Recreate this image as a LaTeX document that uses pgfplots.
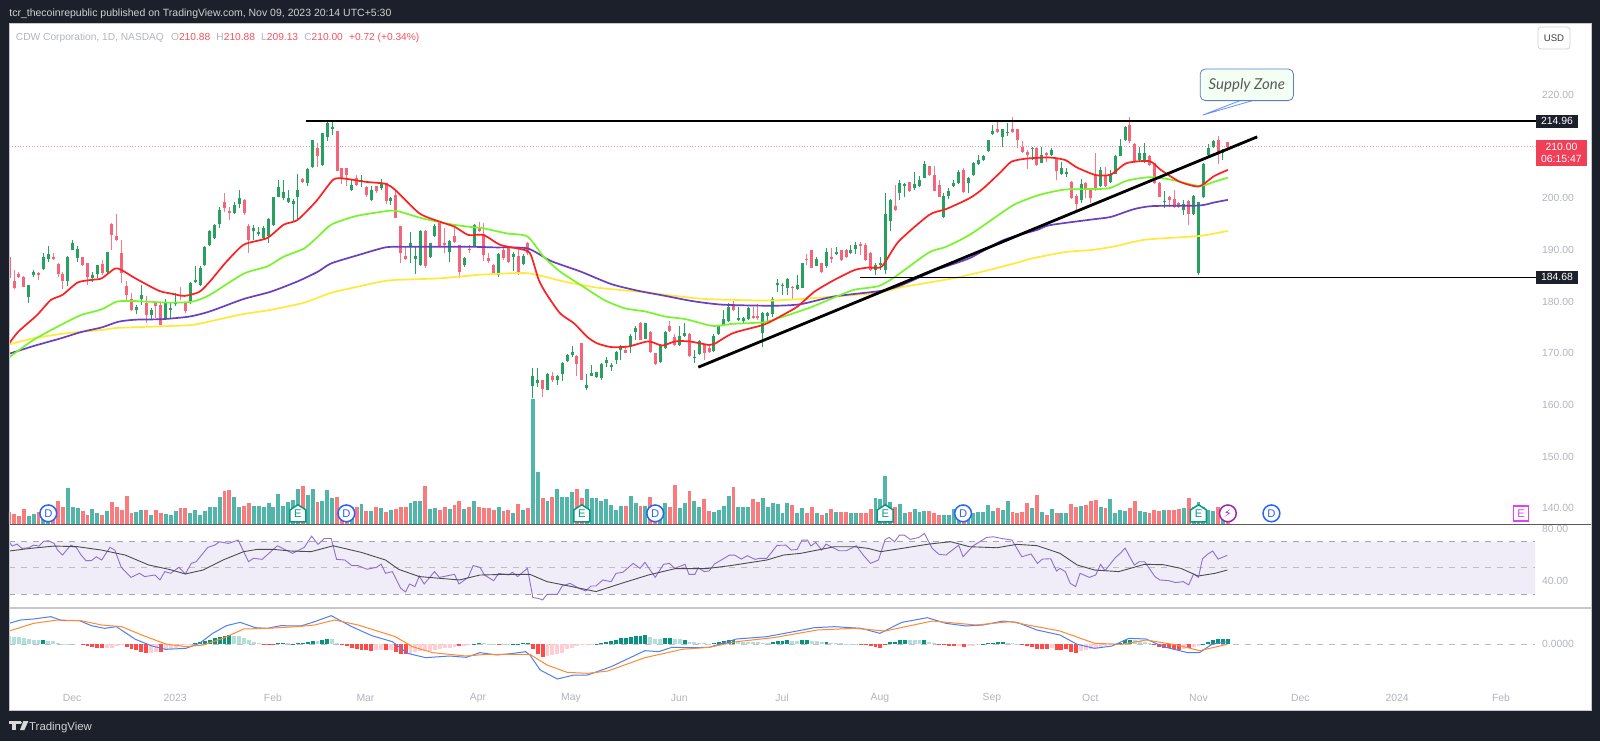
\documentclass[border=0pt]{standalone}
\usepackage{fontspec}
\setmainfont{Liberation Sans}
\newfontfamily\symfont{DejaVu Sans}
\newfontfamily\notefont{Lato}
\usepackage{pgfplots}
\usepackage{pgfplotstable}
\pgfplotsset{compat=1.18}
\usetikzlibrary{shapes.geometric}

\definecolor{frame}{HTML}{1C202B}
\definecolor{tvgray}{HTML}{B2B5BE}
\definecolor{cup}{HTML}{27A060}
\definecolor{cdn}{HTML}{F23F58}
\definecolor{vup}{HTML}{52B5A9}
\definecolor{vdn}{HTML}{F87C7E}
\definecolor{hdark}{HTML}{0A9281}
\definecolor{hpale}{HTML}{B2DFDB}
\definecolor{hred}{HTML}{FF4A4A}
\definecolor{hpink}{HTML}{FFCDD2}
\definecolor{ema1}{HTML}{FF1F1F}
\definecolor{ema2}{HTML}{76F52A}
\definecolor{ema3}{HTML}{6A3FC0}
\definecolor{ema4}{HTML}{FFE93B}
\definecolor{rsiline}{HTML}{8F6FD0}
\definecolor{rsiband}{HTML}{F0EDF8}
\definecolor{macdb}{HTML}{4F7FF5}
\definecolor{macdo}{HTML}{FF8A30}
\definecolor{evblue}{HTML}{2962FF}
\definecolor{evteal}{HTML}{089981}
\definecolor{evpurple}{HTML}{9C27B0}
\definecolor{evmag}{HTML}{E040FB}
\definecolor{legred}{HTML}{F7525F}

% daily bars: index, open, high, low, close, volume (arbitrary units)
\pgfplotstableread{
i o h l c v
0 188.7 188.7 184.5 184.5 37
1 183.9 186.1 182.4 182.6 30
2 185.4 185.8 184.5 184.8 24
3 184.8 184.9 182.8 182.9 44
4 180.8 183.3 179.8 183.2 24
5 185.2 186.1 184.8 185.8 29
6 185.5 185.8 184.2 185.2 37
7 186.3 189.4 186.1 188.7 40
8 188.2 190.8 187.7 189.2 30
9 188.7 189.4 188.1 188.2 30
10 187.3 187.4 184.8 185.4 70
11 185.4 185.8 182.4 183.9 52
12 183.9 188.8 183.0 188.7 107
13 190.0 191.9 190.0 191.3 50
14 188.4 190.8 187.7 190.1 49
15 188.6 188.7 186.8 187.0 39
16 187.4 187.4 183.2 184.7 27
17 184.5 185.8 183.7 185.2 44
18 185.4 187.1 184.5 187.1 32
19 187.2 188.1 185.2 185.5 27
20 185.8 189.7 185.2 189.7 39
21 195.0 195.2 190.0 192.9 65
22 192.7 197.0 191.8 191.9 50
23 189.4 191.9 183.6 185.5 42
24 183.0 183.9 180.0 181.3 84
25 180.6 181.6 178.1 178.3 34
26 178.4 179.4 177.6 179.0 37
27 180.6 183.2 179.4 181.2 42
28 179.7 181.0 175.8 177.4 42
29 177.4 178.7 176.6 178.4 27
30 179.7 180.0 176.8 179.2 42
31 179.4 180.0 175.5 175.5 32
32 176.6 180.6 176.6 180.0 29
33 178.4 180.0 176.8 178.7 27
34 179.6 181.6 179.2 180.0 39
35 181.3 182.9 180.3 181.0 47
36 179.8 180.0 177.7 178.1 47
37 180.0 183.7 179.6 183.6 34
38 183.7 186.8 183.6 184.1 42
39 183.2 186.8 183.0 186.5 27
40 187.1 190.8 186.9 190.5 39
41 191.0 193.9 190.8 193.6 50
42 192.3 195.0 192.1 194.9 52
43 195.0 198.3 194.2 197.7 82
44 199.2 201.1 197.4 198.2 99
45 197.5 198.4 195.8 197.2 102
46 197.1 199.2 197.0 198.7 82
47 198.9 201.7 198.1 200.0 50
48 199.7 199.8 196.8 197.1 55
49 194.7 195.0 189.5 191.9 64
50 193.6 194.8 191.9 194.3 55
51 193.1 194.5 192.7 193.4 55
52 192.3 194.7 192.1 194.2 52
53 192.7 196.1 191.4 196.0 64
54 194.9 200.3 194.7 200.3 52
55 200.3 203.6 200.2 202.1 90
56 200.0 203.6 199.7 201.3 55
57 199.2 201.7 199.0 200.0 67
58 198.9 199.8 195.5 199.5 72
59 200.3 204.8 195.7 201.7 105
60 203.7 203.9 203.0 203.2 114
61 203.0 205.8 202.3 205.6 87
62 206.0 211.3 205.8 211.2 105
63 209.7 210.7 206.1 208.1 67
64 206.5 212.6 206.3 212.6 69
65 211.8 214.8 211.0 214.6 102
66 213.4 215.2 212.3 213.9 79
67 213.0 213.0 205.2 205.3 82
68 205.9 205.9 202.8 203.9 50
69 205.8 205.8 202.4 204.5 50
70 201.6 203.6 201.5 202.6 50
71 204.0 204.5 202.4 202.6 50
72 203.2 204.5 202.1 203.6 60
73 202.1 202.3 200.3 200.6 39
74 199.7 202.3 199.4 201.6 39
75 202.3 202.4 201.1 201.5 50
76 201.9 203.7 201.7 202.9 47
77 203.0 203.0 198.9 199.4 37
78 199.4 200.3 198.7 200.0 42
79 200.6 201.5 196.1 196.1 45
80 194.7 194.7 187.4 189.4 52
81 188.8 190.6 188.1 188.2 52
82 190.5 193.4 187.4 191.3 64
83 188.2 190.6 185.4 188.8 69
84 187.1 193.9 186.8 193.7 69
85 193.7 193.9 186.5 186.8 115
86 188.6 191.4 188.4 191.4 45
87 192.7 195.0 192.6 194.7 47
88 195.2 195.5 190.6 190.8 42
89 191.3 194.2 189.4 191.0 50
90 189.7 191.9 187.7 191.8 44
91 192.7 194.2 191.3 191.6 57
92 191.0 191.0 184.5 185.8 70
93 187.1 188.7 186.7 188.4 45
94 190.1 191.0 189.4 189.9 52
95 190.6 195.0 190.5 194.9 69
96 194.2 195.5 193.4 193.6 52
97 193.0 195.2 187.9 189.0 47
98 188.4 189.4 187.4 187.9 47
99 187.1 187.3 185.4 185.5 42
100 185.2 189.4 184.7 189.2 52
101 190.0 190.8 188.1 188.4 39
102 190.7 190.8 187.4 187.7 42
103 188.6 189.7 186.0 189.2 34
104 188.8 190.3 185.2 185.5 60
105 187.3 189.2 187.0 188.8 42
106 191.4 191.6 189.0 189.4 49
107 163.7 167.1 161.3 165.5 375
108 164.2 167.1 163.5 164.8 155
109 164.8 164.9 161.6 163.0 79
110 162.9 166.1 162.8 166.0 70
111 165.5 166.4 164.5 164.9 82
112 164.9 165.8 163.9 165.5 105
113 165.9 168.4 164.7 168.2 82
114 168.5 169.9 168.4 169.7 82
115 169.7 171.4 169.2 170.3 97
116 169.5 169.7 165.5 167.9 105
117 171.9 171.9 164.9 164.9 79
118 163.2 166.0 162.9 163.9 105
119 165.6 167.7 165.5 166.1 79
120 165.4 166.4 165.2 166.3 79
121 165.2 168.1 164.9 167.9 70
122 168.1 169.2 167.3 168.6 76
123 167.4 168.1 166.6 167.7 57
124 168.6 170.5 167.9 170.3 42
125 170.6 171.6 168.6 171.4 55
126 170.6 171.2 170.0 170.1 55
127 171.3 173.7 170.0 173.4 84
128 174.1 175.2 172.6 174.8 64
129 175.8 176.1 172.5 172.6 55
130 172.8 175.9 172.7 175.8 55
131 174.2 174.4 170.1 170.3 80
132 170.0 170.1 167.7 167.9 55
133 168.4 171.7 168.2 171.6 52
134 171.0 174.4 170.8 174.2 64
135 175.3 176.3 174.2 174.4 52
136 173.1 173.7 171.4 171.6 117
137 171.6 175.2 171.4 173.4 47
138 173.4 175.9 173.1 174.0 64
139 173.7 173.9 169.2 169.4 99
140 169.0 170.6 168.1 169.2 70
141 169.9 172.5 169.7 172.3 50
142 171.6 171.7 168.6 170.0 76
143 171.0 171.8 170.0 170.3 40
144 170.5 173.7 170.3 173.4 37
145 173.7 175.5 173.5 175.3 42
146 175.5 178.4 175.2 176.6 55
147 176.3 179.8 176.1 179.0 84
148 179.5 180.3 178.1 178.3 110
149 176.5 179.0 176.3 176.8 52
150 176.3 177.1 175.9 176.8 52
151 176.6 178.9 176.5 178.7 50
152 177.2 179.0 176.6 176.8 76
153 177.2 179.5 176.5 176.8 67
154 173.9 177.9 171.2 177.7 78
155 177.2 177.9 176.1 177.7 52
156 177.6 180.8 177.1 180.6 64
157 183.2 184.3 181.9 183.6 60
158 183.0 183.6 181.3 183.3 32
159 182.6 184.5 181.3 184.3 64
160 182.9 183.0 180.6 182.6 57
161 182.4 185.2 182.3 183.3 34
162 182.7 187.5 182.6 187.4 47
163 188.2 189.2 187.1 188.0 34
164 189.9 190.0 186.5 186.6 52
165 186.9 188.6 186.8 188.2 34
166 187.4 187.5 185.6 185.8 27
167 186.9 190.3 186.6 189.7 34
168 188.7 190.3 187.5 188.2 45
169 189.2 190.6 189.0 189.7 37
170 189.9 190.0 187.9 188.0 37
171 190.0 190.1 188.5 188.6 37
172 189.5 191.0 189.2 190.0 34
173 190.1 191.6 189.2 191.0 34
174 191.2 191.6 189.0 190.8 32
175 191.0 191.3 187.9 188.0 34
176 189.5 189.6 186.0 186.1 45
177 186.1 187.4 185.2 187.1 79
178 187.0 188.7 186.1 187.4 76
179 186.1 201.1 185.4 197.0 144
180 195.7 199.8 193.6 199.7 67
181 198.6 202.6 197.6 197.7 52
182 201.0 203.5 199.6 202.9 60
183 202.4 203.0 200.2 202.8 34
184 203.1 203.2 201.3 201.5 37
185 201.9 205.0 201.7 202.7 45
186 202.3 204.3 202.1 203.5 37
187 204.0 207.2 203.9 206.6 39
188 206.3 206.3 204.4 204.5 39
189 204.5 206.3 201.4 201.5 32
190 202.6 203.5 200.2 200.3 27
191 196.3 201.0 196.1 200.5 27
192 200.5 201.9 199.8 201.4 27
193 202.3 203.5 202.1 202.9 45
194 203.0 205.4 202.8 205.0 45
195 205.4 205.8 201.0 201.2 42
196 202.9 204.1 201.1 203.9 42
197 204.5 207.1 204.3 206.8 32
198 206.6 208.4 206.4 207.4 35
199 207.4 208.4 207.2 208.2 37
200 209.2 211.3 209.0 211.2 57
201 212.5 214.2 212.3 213.1 39
202 213.4 215.0 212.6 212.8 47
203 211.9 213.5 209.9 213.4 42
204 212.6 214.5 212.1 212.8 69
205 213.5 215.8 212.6 212.8 37
206 213.4 213.5 209.7 211.3 32
207 210.0 211.0 208.7 209.0 37
208 209.0 209.4 205.6 208.4 64
209 209.5 210.0 207.4 209.8 47
210 209.8 210.0 206.3 206.4 87
211 206.9 209.9 206.8 208.4 37
212 208.8 209.0 207.1 208.4 27
213 208.4 209.7 208.1 209.4 45
214 207.7 207.9 203.5 205.2 34
215 204.8 207.1 204.5 205.8 32
216 204.7 205.8 204.1 205.0 32
217 203.2 203.4 199.9 200.0 60
218 200.5 200.8 197.4 198.9 52
219 199.7 203.7 199.0 202.8 55
220 203.0 203.2 200.0 201.6 57
221 201.6 201.7 199.0 200.0 68
222 204.5 208.8 201.5 201.6 72
223 202.3 206.0 202.1 205.5 52
224 204.5 206.0 202.1 202.4 47
225 203.2 205.5 202.9 204.8 76
226 204.8 208.4 204.7 208.1 32
227 208.2 211.4 208.1 210.1 42
228 211.3 214.0 211.0 213.9 40
229 214.2 215.7 210.8 211.0 47
230 210.6 210.8 206.8 207.1 69
231 207.4 209.9 207.1 208.8 40
232 207.4 210.8 206.8 208.7 37
233 208.2 208.4 206.2 206.4 34
234 206.8 206.9 202.7 202.9 42
235 203.0 203.2 200.2 200.3 39
236 199.2 201.5 198.2 199.5 42
237 200.2 200.4 198.4 199.7 42
238 199.8 201.6 198.2 198.4 42
239 199.0 199.3 198.2 198.4 45
240 197.7 199.7 196.8 198.9 47
241 199.5 199.7 194.8 197.0 79
242 197.0 200.6 196.8 200.4 52
243 185.5 199.2 185.1 199.2 67
244 200.2 206.8 200.0 206.6 52
245 208.4 210.6 208.1 209.7 42
246 209.9 211.3 209.7 211.1 39
247 211.3 212.1 206.6 208.6 50
248 208.8 209.5 207.4 209.4 42
249 210.88 210.88 209.13 210.00 22
}\bars

\pgfplotsset{
  pane/.style={scale only axis, width=791pt, xmin=-0.03, xmax=323.2,
    axis line style={draw=none}, xtick=\empty, major tick length=0pt,
    yticklabel pos=right, clip=true,
    tick label style={font=\fontsize{5.2}{6}\selectfont, text=tvgray},
    yticklabel style={anchor=west, xshift=-28pt},
    filter discard warning=false, unbounded coords=discard,
    /pgf/number format/assume math mode=true},
  wick/.style={draw=none, mark=none, forget plot, error bars/.cd, y dir=plus, y explicit,
    error mark=none, error bar style={solid, line width=0.5pt, draw=#1}},
  body/.style={draw=none, mark=none, forget plot, error bars/.cd, y dir=plus, y explicit,
    error mark=none, error bar style={solid, line width=1.5pt, draw=#1}},
  ema/.style={smooth, tension=0.4, line width=0.85pt, line join=round, mark=none, draw=#1},
  hist/.style={ycomb, line width=1.95pt, mark=none, draw=#1}
}

\pgfdeclareplotmark{house}{%
  \pgfpathmoveto{\pgfqpoint{-4pt}{-4.3pt}}
  \pgfpathlineto{\pgfqpoint{4pt}{-4.3pt}}
  \pgfpathlineto{\pgfqpoint{4pt}{1.7pt}}
  \pgfpathlineto{\pgfqpoint{0pt}{4.3pt}}
  \pgfpathlineto{\pgfqpoint{-4pt}{1.7pt}}
  \pgfpathclose
  \pgfusepathqfillstroke}

\newcommand{\tf}[1]{\fontsize{#1}{#1}\selectfont}

\begin{document}
\begin{tikzpicture}[x=1pt,y=1pt]
\useasboundingbox (0,0) rectangle (800,370.5);
\fill[frame] (0,0) rectangle (800,370.5);
\fill[white] (4.5,15.5) rectangle (795.5,358.5);

% volume, behind the candles
\begin{axis}[pane, at={(4.5pt,108.5pt)}, anchor=south west, height=250pt,
  ymin=0, ymax=1500, ytick=\empty]
\addplot[hist=vup] table[x expr={\thisrow{c}>=\thisrow{o} ? \thisrow{i} : nan}, y=v] {\bars};
\addplot[hist=vdn] table[x expr={\thisrow{c}<\thisrow{o} ? \thisrow{i} : nan}, y=v] {\bars};
\end{axis}

% price pane (210 sits under the last-price tag)
\begin{axis}[pane, at={(4.5pt,108.5pt)}, anchor=south west, height=250pt,
  ymin=136.94, ymax=233.75, ytick={140,150,160,170,180,190,200,220},
  yticklabel style={/pgf/number format/.cd, fixed, fixed zerofill, precision=2}]
\addplot[draw=legred!60, line width=0.4pt, densely dotted, mark=none] coordinates {(0,210)(311.8,210)};
\addplot[wick=cup] table[x expr={\thisrow{c}>=\thisrow{o} ? \thisrow{i} : nan}, y=l, y error expr=\thisrow{h}-\thisrow{l}] {\bars};
\addplot[wick=cdn!70] table[x expr={\thisrow{c}<\thisrow{o} ? \thisrow{i} : nan}, y=l, y error expr=\thisrow{h}-\thisrow{l}] {\bars};
\addplot[body=cup] table[x expr={\thisrow{c}>=\thisrow{o} ? \thisrow{i} : nan}, y=o, y error expr=\thisrow{c}-\thisrow{o}] {\bars};
\addplot[body=cdn!80] table[x expr={\thisrow{c}<\thisrow{o} ? \thisrow{i} : nan}, y=c, y error expr=\thisrow{o}-\thisrow{c}] {\bars};
% 200 / 100 / 50 / 20 averages
\addplot[ema=ema4] coordinates {(0,171.7)(5,172.9)(11.9,173.9)(18.9,174.5)(22,174.9)(30.6,175.2)(37.5,175.5)(43,176.6)(47.9,177.6)(53.4,178.4)(60.3,179.8)(65.8,181.7)(71.3,182.9)(77.6,184.1)(87.9,184.5)(96.2,185.2)(105.9,185.5)(113.3,183.9)(120.2,182.7)(129.9,181.8)(136.1,181.1)(142.4,180.5)(154.8,180.2)(161.7,180.5)(168.6,181.0)(177.6,181.7)(182.4,182.8)(192.8,184.5)(199.7,186.0)(206.6,187.7)(208.7,188.3)(215.8,189.6)(221.2,190.0)(225.9,190.7)(232.2,192.0)(243.1,192.7)(249,193.7)};
\addplot[ema=ema3] coordinates {(0,169.9)(5,171.4)(10.6,172.9)(14.7,174.1)(18.9,175.0)(22.3,176.1)(25.8,176.5)(31.3,176.6)(36.8,177.1)(41,178.1)(47.9,180.5)(53.4,181.9)(58.9,183.9)(63.1,185.8)(65.8,187.4)(71.3,189.0)(76.9,190.5)(81,190.6)(94.8,190.6)(99,190.5)(105.9,190.3)(110.6,187.9)(116.8,185.8)(123,183.4)(128.5,182.1)(134.1,181.1)(139.6,180.1)(145.8,179.4)(156.2,179.2)(161.7,179.5)(168.6,181.0)(178.3,182.1)(182.4,183.2)(189.3,186.1)(196.2,188.4)(203.1,191.9)(210.1,193.9)(212.6,194.8)(221.2,195.9)(225.1,196.4)(229.8,197.9)(233.7,198.5)(243.1,198.6)(246.2,199.2)(249,199.7)};
\addplot[ema=ema2] coordinates {(0,169.2)(5,172.6)(10.6,175.5)(14.7,177.4)(18.9,178.5)(22,180.0)(25.8,180.1)(32.7,179.8)(37.5,180.0)(41,181.3)(47.9,185.4)(52.7,186.8)(56.1,188.7)(60.3,190.3)(63.1,192.6)(65.8,194.9)(70.6,196.5)(75.5,197.3)(78.9,197.6)(84.5,196.1)(90.7,194.9)(94.8,194.4)(96.9,194.2)(101.7,193.2)(105.9,192.6)(109.2,188.7)(112.6,185.8)(116.8,183.2)(121.6,180.3)(125.8,178.7)(129.9,178.1)(134.1,177.1)(138.2,176.6)(143.7,175.3)(147.9,175.7)(154.1,176.0)(158.2,177.1)(163.8,178.9)(168.6,180.8)(172.7,182.3)(177.6,183.0)(181,184.8)(187.9,189.5)(191.4,190.6)(196.2,192.9)(202.5,197.0)(205.6,198.9)(210.3,200.6)(215.8,201.7)(224.4,201.9)(228.3,203.4)(233,204.1)(236.9,203.7)(243.1,202.4)(246.2,203.2)(249,204.0)};
\addplot[ema=ema1] coordinates {(0,171.9)(1.9,174.2)(5.7,177.4)(8.5,180.3)(10.9,181.3)(14,183.7)(16.8,184.2)(18.9,184.5)(21.6,186.4)(23,186.1)(25.8,184.5)(30.6,182.1)(33.4,181.5)(35.8,181.1)(38.9,181.9)(41.3,184.2)(44.1,187.4)(47.9,191.0)(52.7,192.3)(56.1,194.9)(58.9,195.8)(62.7,199.4)(66.2,203.6)(68.6,203.8)(72.7,203.2)(76.9,202.8)(78.9,201.6)(83.8,197.1)(87.9,195.5)(91,194.5)(93.8,192.9)(96.9,192.9)(100.3,191.0)(103.8,190.3)(106.4,189.4)(108.2,184.2)(109.9,181.3)(112.6,177.7)(115.4,175.8)(118.2,173.1)(120.2,171.9)(123,171.2)(126.5,171.3)(130.6,172.3)(133.4,171.5)(136.1,172.3)(138.9,172.3)(143,171.6)(144.1,171.8)(147.9,173.9)(154.1,175.5)(156.9,176.8)(161,179.0)(164.5,181.9)(168.6,184.2)(172.7,186.1)(175.5,186.6)(178.3,186.8)(181.7,191.6)(188,196.8)(191.4,197.9)(196.2,200.0)(199,201.9)(202.5,205.0)(204.8,207.1)(208,207.7)(212.6,207.9)(215.8,207.4)(218.1,206.0)(222,204.5)(225.1,204.6)(228.3,206.8)(233,207.2)(235.3,205.5)(239.2,203.2)(243.1,202.3)(246.2,204.3)(249,205.5)};
% drawn levels and trend line
\addplot[black, line width=0.8pt, mark=none] coordinates {(60.7,214.96)(312,214.96)};
\addplot[black, line width=0.8pt, mark=none] coordinates {(173.8,184.68)(312,184.68)};
\addplot[black, line width=1.4pt, mark=none] coordinates {(140.8,167.3)(255,211.9)};
% earnings, dividend and split events along the pane's foot
\addplot[only marks, mark=*, mark size=4.2pt, mark options={fill=white, draw=evblue, line width=0.75pt},
  nodes near coords={\tf{5.6}\textcolor{evblue}{D}}, nodes near coords align={center}]
  coordinates {(8,139)(68.9,139)(132,139)(194.9,139)(257.9,139)};
\addplot[only marks, mark=house, mark options={fill=white, draw=evteal, line width=0.75pt},
  nodes near coords={\tf{5.6}\textcolor{evteal}{E}}, nodes near coords align={center}]
  coordinates {(59,139)(117,139)(179,139)(243,139)};
\addplot[only marks, mark=*, mark size=4.2pt, mark options={fill=white, draw=evpurple, line width=0.75pt},
  nodes near coords={\symfont\tf{5.6}\textcolor{evpurple}{⚡}}, nodes near coords align={center}]
  coordinates {(249,139)};
\addplot[only marks, mark=square*, mark size=3.8pt, mark options={fill=white, draw=evmag, line width=0.75pt},
  nodes near coords={\tf{5.6}\textcolor{evmag}{E}}, nodes near coords align={center}]
  coordinates {(308.9,139)};
\end{axis}

% RSI pane
\begin{axis}[pane, at={(4.5pt,66.5pt)}, anchor=south west, height=42pt,
  ymin=19.2, ymax=83.6, ytick={40,80},
  yticklabel style={/pgf/number format/.cd, fixed, fixed zerofill, precision=2}]
\addplot[fill=rsiband, draw=none] coordinates {(-0.03,30)(311.8,30)(311.8,70)(-0.03,70)} \closedcycle;
\addplot[gray!70, line width=0.4pt, dashed, mark=none] coordinates {(0,70)(311.8,70)};
\addplot[gray!50, line width=0.4pt, dashed, mark=none] coordinates {(0,50)(311.8,50)};
\addplot[gray!70, line width=0.4pt, dashed, mark=none] coordinates {(0,30)(311.8,30)};
\addplot[rsiline, line width=0.45pt, mark=none] coordinates {(0,70.0)(0.6,66.7)(1.6,68.2)(2.6,64.9)(4,65.4)(5,67.4)(6.1,66.7)(7.1,70.5)(8.1,70.7)(9.2,68.7)(9.9,63.6)(10.9,59.8)(12.6,67.4)(13.7,65.7)(14.7,59.8)(15.7,55.5)(16.8,55.5)(17.8,58.5)(18.9,56.0)(20.6,65.7)(21.6,63.6)(22.9,50.4)(24.9,42.7)(26.6,45.8)(27.7,43.3)(29.8,44.5)(30.8,40.7)(31.8,47.1)(33,45.8)(34.7,50.4)(36,45.3)(37.2,53.4)(38.2,54.7)(40.6,65.7)(42,67.4)(43,70.0)(44.8,68.7)(46.8,71.3)(48.9,54.7)(49.9,57.3)(51.7,56.5)(54.8,66.9)(57.9,61.1)(60.3,65.7)(61.8,74.3)(63.1,68.0)(64.4,72.5)(65.8,72.5)(66.9,56.5)(68.6,56.0)(70,51.7)(71.3,51.7)(73.1,48.9)(75.1,50.4)(76,52.9)(76.9,45.8)(78.3,47.1)(80,34.3)(81,31.5)(81.8,37.6)(82.9,35.6)(83.8,43.7)(84.8,37.6)(86.9,47.1)(87.9,42.7)(91,45.0)(91.9,37.6)(93.8,42.7)(94.8,51.7)(96.2,50.4)(97.1,44.5)(99,40.1)(100,45.8)(102.1,44.5)(102.8,46.6)(103.9,43.3)(105.9,49.6)(106.4,39.4)(107,27.2)(108,26.7)(109,25.4)(109.9,29.7)(112,29.7)(113,36.1)(114.6,38.1)(116.4,34.3)(117.8,32.3)(118.9,36.1)(119.9,36.1)(121.3,40.7)(123,39.4)(124,45.8)(125.4,46.6)(127.5,53.4)(128.9,49.6)(129.9,54.2)(132,42.7)(133.7,52.7)(134.9,53.4)(136,49.6)(138.1,52.7)(138.9,45.0)(140.1,45.0)(140.8,50.1)(142,47.1)(143,47.6)(144.1,52.9)(147.2,59.8)(148.2,59.8)(149.6,56.7)(150.8,59.3)(152.4,56.5)(153.4,57.3)(154.8,57.3)(156.9,67.2)(158.7,67.4)(159.8,63.6)(161,64.1)(162,71.3)(163.1,71.3)(163.8,66.7)(164.8,69.5)(166,63.6)(166.9,68.2)(167.9,66.2)(169.6,63.1)(171,63.1)(173.1,66.9)(174.5,59.8)(176,53.4)(177.6,56.0)(179,71.8)(179.8,73.3)(180.9,70.0)(181.9,75.1)(182.9,75.1)(184.1,71.8)(185.9,73.3)(187,76.4)(188.6,64.9)(190,60.3)(191.4,59.8)(194,67.4)(194.9,58.5)(196.9,66.7)(199.7,73.3)(201.1,73.8)(202.8,72.5)(204.9,71.3)(206.9,58.5)(208.8,60.6)(210.1,53.4)(211.1,56.7)(212.8,57.0)(214,47.6)(214.7,49.6)(215.8,47.1)(216.8,38.1)(217.9,35.6)(218.8,45.8)(220.7,42.7)(222,44.5)(223,52.7)(223.9,47.8)(226,57.8)(227,61.1)(228,65.1)(229.9,52.1)(230.9,54.7)(232,54.7)(234.1,43.3)(235.1,40.7)(236.9,40.2)(238.3,38.7)(239.9,39.4)(241,36.9)(242,45.3)(243,42.7)(243.8,56.7)(244.8,60.3)(245.9,62.9)(247,56.7)(248.9,59.6)};
\addplot[black!70, line width=0.45pt, mark=none] coordinates {(0,62.9)(4.3,64.9)(9.2,66.7)(14,66.2)(18.9,63.6)(23.7,59.8)(28.5,52.2)(32.7,48.8)(36,45.3)(39.6,48.3)(43.7,56.0)(47.9,62.4)(50.6,64.1)(54.1,64.1)(57.5,62.9)(61.7,62.4)(66.2,66.9)(72,61.8)(76.9,56.0)(79.6,48.8)(83.8,43.3)(87.9,42.0)(92,40.7)(96.2,44.5)(101.7,45.0)(106.4,45.0)(109.9,39.4)(113.3,36.9)(119.9,31.8)(125.1,38.1)(130.6,44.5)(136.1,49.4)(142.4,49.4)(147.2,51.6)(154.8,56.0)(158.2,59.8)(161.7,61.1)(165.8,64.1)(168.6,66.2)(172.7,66.2)(175.5,64.9)(178.1,62.4)(182.4,64.9)(187.9,68.2)(192.4,70.0)(196.2,66.2)(201.8,65.4)(205.9,68.0)(210,67.0)(214.7,61.1)(218.2,52.2)(221.8,48.3)(226.7,47.1)(232,52.7)(235.8,52.4)(239.4,49.6)(242.9,43.7)(246.4,45.8)(248.9,48.3)};
\end{axis}

% MACD pane with the time scale
\begin{axis}[pane, at={(4.5pt,15.5pt)}, anchor=south west, height=51pt,
  ymin=-9.85, ymax=5.45, ytick={0},
  yticklabel style={/pgf/number format/.cd, fixed, fixed zerofill, precision=4},
  xtick={12.85,33.9,53.9,72.8,95.8,114.8,136.9,157.9,177.9,200.8,220.9,243,263.8,283.6,304.8},
  xticklabels={Dec,2023,Feb,Mar,Apr,May,Jun,Jul,Aug,Sep,Oct,Nov,Dec,2024,Feb},
  xticklabel style={anchor=center, yshift=6pt}]
\addplot[gray!50, line width=0.4pt, dashed, mark=none] coordinates {(0,0)(311.8,0)};
\addplot[hist=hpale] coordinates {(0,1.25)(1,1.15)(2,1.1)(3,0.9)(4,0.8)(5,0.65)(6,0.6)(8,0.5)(9,0.5)(10,0.25)(11,0.05)(12,0.05)(46,1.3)(47,1.2)(48,1.0)(49,0.6)(50,0.4)(51,0.15)(57,0.15)(63,0.5)(66,0.8)(67,0.25)(97,0.15)(98,0.1)(99,0.05)(101,0.05)(102,0.05)(131,1.1)(132,0.75)(133,0.75)(136,0.75)(137,0.75)(139,0.4)(140,0.3)(141,0.25)(142,0.15)(143,0.1)(149,0.4)(150,0.4)(151,0.4)(152,0.3)(153,0.3)(154,0.25)(155,0.25)(160,0.45)(161,0.45)(164,0.5)(165,0.5)(166,0.4)(168,0.2)(169,0.15)(170,0.15)(171,0.1)(172,0.1)(173,0.05)(184,0.65)(185,0.6)(186,0.6)(188,0.4)(189,0.15)(204,0.25)(205,0.15)(206,0.05)(230,0.6)(231,0.5)(232,0.35)(233,0.15)};
\addplot[hist=hdark] coordinates {(7,0.7)(38,0.15)(39,0.3)(40,0.45)(41,0.7)(42,1.0)(43,1.15)(44,1.3)(45,1.35)(55,0.25)(56,0.25)(58,0.1)(59,0.15)(60,0.25)(61,0.4)(62,0.5)(64,0.6)(65,0.75)(95,0.1)(96,0.25)(103,0.1)(104,0.1)(105,0.15)(106,0.2)(120,0.1)(121,0.25)(122,0.4)(123,0.55)(124,0.7)(125,0.9)(126,1.0)(127,1.1)(128,1.2)(129,1.25)(130,1.35)(134,0.9)(135,0.9)(138,0.7)(144,0.25)(145,0.4)(146,0.5)(147,0.6)(148,0.7)(156,0.4)(157,0.5)(158,0.5)(159,0.6)(162,0.6)(163,0.6)(167,0.4)(180,0.35)(181,0.35)(182,0.6)(183,0.7)(187,0.6)(199,0.05)(200,0.15)(201,0.25)(202,0.35)(203,0.4)(226,0.1)(227,0.25)(228,0.6)(229,0.7)(244,0.1)(245,0.4)(246,0.7)(247,0.75)(248,0.75)(249,0.75)};
\addplot[hist=hpink] coordinates {(20,-0.6)(21,-0.5)(22,-0.25)(23,-0.15)(29,-1.25)(30,-1.1)(32,-0.9)(33,-0.7)(34,-0.5)(35,-0.3)(36,-0.15)(37,-0.05)(75,-0.9)(76,-0.8)(78,-0.85)(82,-1.4)(83,-1.2)(84,-1.0)(85,-1.0)(86,-1.0)(87,-0.9)(88,-0.75)(89,-0.6)(90,-0.5)(91,-0.4)(93,-0.25)(94,-0.15)(110,-1.75)(111,-1.65)(112,-1.5)(113,-1.25)(114,-0.75)(115,-0.5)(116,-0.3)(117,-0.15)(118,-0.1)(119,-0.05)(194,-0.25)(196,-0.3)(197,-0.2)(198,-0.1)(213,-0.5)(219,-1.0)(220,-0.9)(221,-0.75)(222,-0.6)(223,-0.4)(224,-0.2)(225,-0.05)(240,-0.65)(242,-0.4)(243,-0.3)};
\addplot[hist=hred] coordinates {(15,-0.1)(16,-0.25)(17,-0.4)(18,-0.5)(19,-0.6)(24,-0.4)(25,-0.65)(26,-0.9)(27,-1.15)(28,-1.3)(31,-1.1)(52,-0.15)(53,-0.15)(54,-0.1)(68,-0.15)(69,-0.3)(70,-0.6)(71,-0.7)(72,-0.85)(73,-0.9)(74,-1.0)(77,-0.9)(79,-1.1)(80,-1.4)(81,-1.4)(92,-0.3)(100,-0.05)(107,-0.75)(108,-1.4)(109,-1.85)(174,-0.05)(175,-0.15)(176,-0.25)(177,-0.4)(178,-0.5)(179,-0.1)(190,-0.05)(191,-0.15)(192,-0.2)(193,-0.25)(195,-0.4)(207,-0.15)(208,-0.3)(209,-0.4)(210,-0.65)(211,-0.7)(212,-0.7)(214,-0.8)(215,-0.85)(216,-0.75)(217,-1.1)(218,-1.25)(234,-0.15)(235,-0.4)(236,-0.55)(237,-0.6)(238,-0.7)(239,-0.8)(241,-0.6)};
\addplot[macdb, line width=0.5pt, mark=none] coordinates {(0,3.15)(2.3,3.65)(5,3.8)(8.5,4.15)(10.9,3.55)(14.4,3.55)(16.8,2.8)(19.5,2.4)(21.9,2.65)(25.8,0.75)(29.2,-0.25)(32,-0.75)(36.1,-0.6)(38.9,0.15)(41.6,1.65)(44.4,2.8)(47.2,3.3)(50.3,2.5)(52.7,2.4)(55.5,2.8)(59.6,2.75)(62.4,3.4)(65.8,4.3)(70,2.65)(74.1,1.3)(78.3,0.4)(81.4,-1.35)(85.1,-2.0)(90,-1.75)(93.4,-1.95)(96.2,-1.25)(99.7,-1.6)(103.1,-1.35)(105.5,-1.1)(106.4,-1.6)(108.5,-3.85)(112,-5.2)(115.4,-4.6)(118.2,-4.6)(123,-3.35)(129.9,-0.95)(132.7,-1.1)(135.4,-0.45)(139.6,-0.5)(143,-0.45)(148.6,0.8)(154.8,1.15)(161,2.0)(164.5,2.5)(168.6,2.65)(174.1,2.4)(177.9,1.65)(182.4,3.3)(187.6,4.0)(191.4,3.15)(195.5,2.75)(199,2.9)(203.1,3.5)(205.9,3.3)(210,2.15)(214.7,1.4)(218.2,0)(221.8,-0.6)(225.3,-0.25)(228.8,0.9)(232.3,0.8)(235.8,-0.35)(240.8,-1.25)(243.2,-1.25)(245.7,0)(248.9,0.4)};
\addplot[macdo, line width=0.5pt, mark=none] coordinates {(0,2.0)(5,3.15)(9.9,3.65)(14.7,3.55)(18.9,2.9)(23,2.65)(27.1,1.4)(32,0.05)(36.1,-0.35)(39.6,-0.1)(43.7,0.9)(47.9,2.3)(52.7,2.4)(58.9,2.65)(62.4,2.9)(66.5,3.65)(71.3,2.9)(78.9,1.15)(82.4,-0.35)(86.5,-1.25)(93.4,-1.75)(97.6,-1.5)(106.4,-1.5)(109.9,-3.1)(114,-4.2)(118.2,-4.35)(122.3,-4.0)(129.9,-2.0)(137.5,-0.75)(143,-0.45)(148.6,0.4)(156.2,1.0)(165.1,2.15)(172.7,2.4)(179,2.0)(188.6,3.5)(197.6,2.9)(204.5,3.4)(214.7,2.0)(221.8,0.15)(227.4,0)(232.3,0.65)(238.6,-0.1)(243.2,-0.95)(248.9,0)};
\end{axis}

% pane separators
\draw[black!65, line width=0.5pt] (4.5,108.5) -- (795.5,108.5);
\draw[black!22, line width=0.7pt] (4.5,66.5) -- (795.5,66.5);
\draw[black!22, line width=0.5pt] (4.5,15.5) rectangle (795.5,358.5);

% header, legend and footer
\node[anchor=base west, inner sep=0, text=white!82!black] at (4.5,362.3) {\tf{5.25}tcr\_thecoinrepublic published on TradingView.com, Nov 09, 2023 20:14 UTC+5:30};
\node[anchor=base west, inner sep=0] at (7.8,350) {\tf{5.1}\textcolor{tvgray}{CDW Corporation, 1D, NASDAQ\hspace{3.6pt}O}\textcolor{legred}{210.88}\hspace{3.1pt}\textcolor{tvgray}{H}\textcolor{legred}{210.88}\hspace{3.1pt}\textcolor{tvgray}{L}\textcolor{legred}{209.13}\hspace{3.1pt}\textcolor{tvgray}{C}\textcolor{legred}{210.00}\hspace{3.1pt}\textcolor{legred}{+0.72 (+0.34\%)}};
\draw[black!18, fill=white, rounded corners=1.5pt, line width=0.4pt] (769,346) rectangle (785,357);
\node[text=black!75, inner sep=0] at (777,351.5) {\tf{4.8}USD};
\fill[white!85!black] (4.3,8.4) rectangle (9.8,10);
\fill[white!85!black] (6.2,5.5) rectangle (8.2,8.4);
\fill[white!85!black] (10.2,9.2) circle (0.8);
\fill[white!85!black] (10,5.5) -- (12.2,5.5) -- (14.2,10) -- (11.7,10) -- cycle;
\node[anchor=base west, inner sep=0, text=white!82!black] at (14.4,5.4) {\tf{5.7}TradingView};

% price scale tags
\fill[frame] (768,306.5) rectangle (789,313);
\node[text=white, inner sep=0] at (778.5,309.8) {\tf{5.2}214.96};
\fill[frame] (768,228.3) rectangle (789,235.2);
\node[text=white, inner sep=0] at (778.5,231.8) {\tf{5.2}184.68};
\fill[cdn] (768,287.5) rectangle (793.7,300.5);
\node[text=white, inner sep=0] at (780.7,297) {\tf{5.2}210.00};
\node[text=white, inner sep=0] at (780.7,291) {\tf{5.2}06:15:47};

% callout
\draw[evblue!70!white, fill=green!5!white, line width=0.4pt, line join=round] (620,320.2) -- (601.4,313) -- (626.3,320.2);
\draw[evblue!70!black!70, fill=green!5!white, rounded corners=2.5pt, line width=0.4pt] (600.1,320.2) rectangle (646.7,336);
\node[inner sep=0, text=black!65] at (623.4,328) {\notefont\itshape\tf{7.5}Supply Zone};
\end{tikzpicture}
\end{document}
